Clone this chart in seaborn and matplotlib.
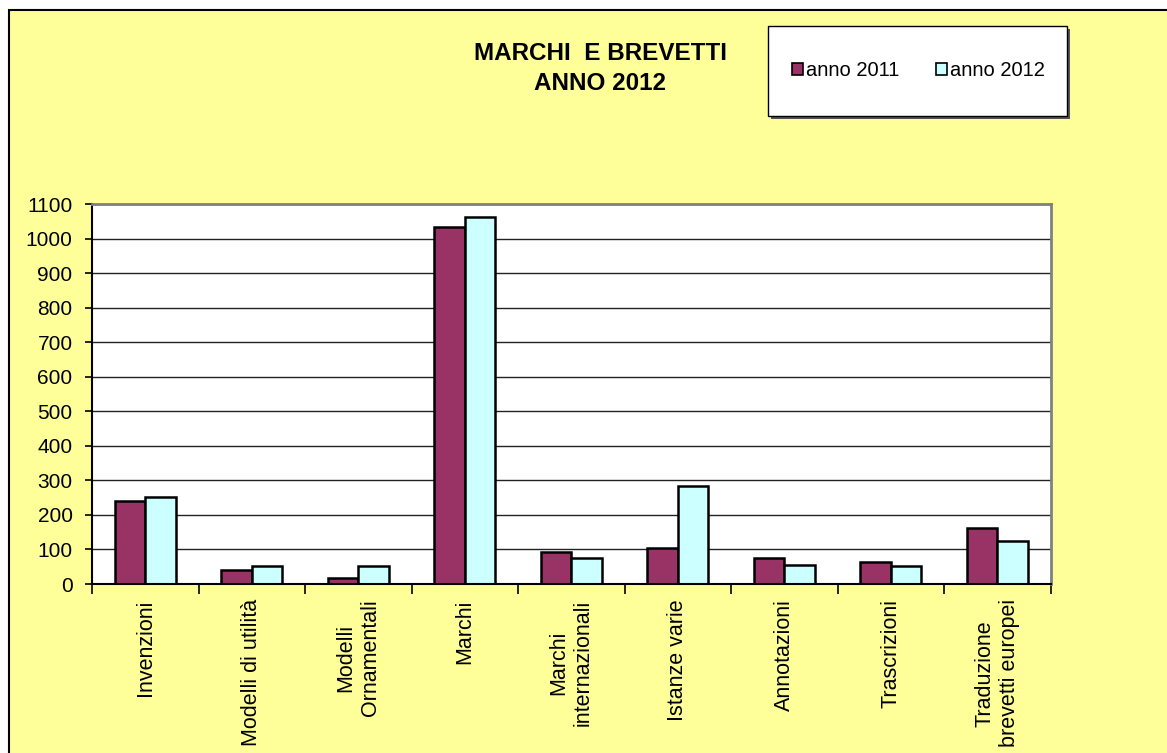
import matplotlib
matplotlib.use('Agg')
import matplotlib.pyplot as plt
import seaborn as sns
import pandas as pd
from matplotlib.patches import Rectangle, Patch

# ---- data ----
categories = ["Invenzioni", "Modelli di utilità", "Modelli\nOrnamentali", "Marchi",
              "Marchi\ninternazionali", "Istanze varie", "Annotazioni", "Trascrizioni",
              "Traduzione\nbrevetti europei"]
anno_2011 = [240, 40, 18, 1034, 93, 103, 74, 63, 162]
anno_2012 = [253, 51, 51, 1063, 74, 283, 54, 51, 126]
series = ["anno 2011", "anno 2012"]
colors = ["#993366", "#CCFFFF"]
yticks = list(range(0, 1101, 100))
title_lines = ["MARCHI  E BREVETTI", "ANNO 2012"]

sns.set_theme(style="white")
plt.rcParams['font.family'] = ['Liberation Sans', 'DejaVu Sans']
plt.rcParams.update({'text.color': 'black', 'xtick.color': 'black',
                     'ytick.color': 'black', 'axes.labelcolor': 'black'})

W, H = 1167, 753
fig = plt.figure(figsize=(W / 100, H / 100), dpi=100, facecolor='white')

# yellow chart area with black border (left/top visible)
bg = Rectangle((9 / W, -0.2), 1.5, 1 - 10 / H + 0.2, transform=fig.transFigure,
               facecolor='#FFFF99', edgecolor='black', linewidth=1.5, zorder=-10)
fig.patches.append(bg)

ax = fig.add_axes([92 / W, 1 - 584 / H, (1050.5 - 92) / W, (584 - 204.3) / H])
ax.set_zorder(2)
ax.set_facecolor('white')

df = pd.DataFrame({
    'categoria': categories * 2,
    'valore': anno_2011 + anno_2012,
    'anno': [series[0]] * len(categories) + [series[1]] * len(categories),
})
sns.barplot(data=df, x='categoria', y='valore', hue='anno', palette=colors,
            saturation=1, width=0.57, edgecolor='black', linewidth=1.8,
            errorbar=None, ax=ax)
if ax.get_legend() is not None:
    ax.get_legend().remove()

ax.set_ylim(0, 1100)
ax.set_xlim(-0.5, len(categories) - 0.5)
ax.set_yticks(yticks)
ax.set_yticklabels([str(v) for v in yticks], fontsize=15)
ax.yaxis.grid(True, color='#222222', linewidth=1)
ax.set_axisbelow(True)
ax.set_xlabel('')
ax.set_ylabel('')

ax.set_xticks(range(len(categories)))
ax.set_xticklabels(categories, rotation=90, ha='center', va='top',
                   multialignment='center', fontsize=15.5)
ax.tick_params(axis='x', which='major', length=0, pad=11)
ax.set_xticks([i - 0.5 for i in range(len(categories) + 1)], minor=True)
ax.tick_params(axis='x', which='minor', length=7, width=1.2, direction='out',
               bottom=True, color='black')
ax.tick_params(axis='y', length=5, width=1.2, direction='out', left=True,
               color='black', pad=9)

for s in ['left', 'bottom']:
    ax.spines[s].set_color('black')
    ax.spines[s].set_linewidth(1.5)
for s in ['top', 'right']:
    ax.spines[s].set_color('#808080')
    ax.spines[s].set_linewidth(2)

# title
fig.text(600 / W, 1 - 53.5 / H, title_lines[0], ha='center', va='center',
         fontsize=17.5, fontweight='bold', zorder=3)
fig.text(600 / W, 1 - 83 / H, title_lines[1], ha='center', va='center',
         fontsize=17.5, fontweight='bold', zorder=3)

# legend box with shadow
lx, ly, lw, lh = 768, 26, 299, 90
shadow = Rectangle(((lx + 3) / W, 1 - (ly + lh + 3) / H), lw / W, lh / H,
                   transform=fig.transFigure, facecolor='#555555', edgecolor='none', zorder=1)
box = Rectangle((lx / W, 1 - (ly + lh) / H), lw / W, lh / H,
                transform=fig.transFigure, facecolor='white', edgecolor='black',
                linewidth=1, zorder=1.5)
fig.patches.extend([shadow, box])
handles = [Patch(facecolor=c, edgecolor='black', linewidth=1.2) for c in colors]
leg = fig.legend(handles, series, loc='center',
                 bbox_to_anchor=((lx + lw / 2 + 1) / W, 1 - (ly + lh / 2) / H),
                 ncol=2, frameon=False, fontsize=14.5, handlelength=0.55,
                 handleheight=0.55, handletextpad=0.15, columnspacing=1.8)
leg.set_zorder(5)

fig.savefig('out.png', dpi=100, facecolor=fig.get_facecolor())
